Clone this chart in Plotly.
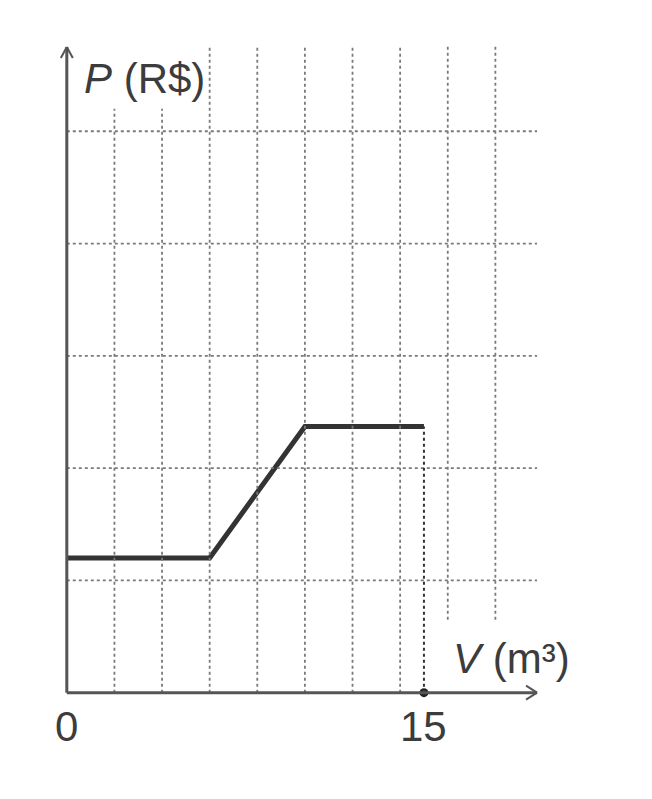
import plotly.graph_objects as go

# Price P (R$) as a function of volume V (m3).
volumes = [0, 6, 10, 15]
prices = [1.2, 1.2, 2.37, 2.37]
tick_values = [0, 15]
tick_labels = ["0", "15"]

# Grid of the drawing (in data units).
grid_x = [2, 4, 6, 8, 10, 12, 14, 16, 18]
grid_y = [1, 2, 3, 4, 5]
x_end = 19.75
y_end = 5.75

ink = "#333333"
grid_color = "#7a7a7a"
font = "Liberation Sans, Arial, sans-serif"

fig = go.Figure()

shapes = []
for gx in grid_x:
    top = 5.2 if gx < 6 else 5.77
    bottom = 0.65 if gx > 15 else 0
    shapes.append(dict(type="line", xref="x", yref="y", x0=gx, x1=gx,
                       y0=bottom, y1=top,
                       line=dict(color=grid_color, width=1.8, dash="dot")))
for gy in grid_y:
    shapes.append(dict(type="line", xref="x", yref="y", x0=0, x1=x_end,
                       y0=gy, y1=gy,
                       line=dict(color=grid_color, width=1.8, dash="dot")))

# Drop line from the end of the plateau to the V axis.
shapes.append(dict(type="line", xref="x", yref="y",
                   x0=volumes[-1], x1=volumes[-1], y0=0, y1=prices[-1],
                   line=dict(color="#333333", width=2, dash="dot")))

# Axes with arrowheads.
axis_line = dict(color="#555555", width=3)
shapes.append(dict(type="line", xref="x", yref="y", x0=0, x1=x_end,
                   y0=0, y1=0, line=axis_line))
shapes.append(dict(type="line", xref="x", yref="y", x0=0, x1=0,
                   y0=0, y1=y_end, line=axis_line))
for s in (1, -1):
    shapes.append(dict(type="line", xref="x", yref="y",
                       xsizemode="pixel", ysizemode="pixel",
                       xanchor=x_end, yanchor=0,
                       x0=-11, x1=0, y0=7 * s, y1=0,
                       line=dict(color="#555555", width=2)))
    shapes.append(dict(type="line", xref="x", yref="y",
                       xsizemode="pixel", ysizemode="pixel",
                       xanchor=0, yanchor=y_end,
                       x0=6 * s, x1=0, y0=-11, y1=0,
                       line=dict(color="#555555", width=2)))

fig.add_trace(go.Scatter(x=volumes, y=prices, mode="lines",
                         line=dict(color=ink, width=5),
                         hoverinfo="skip", showlegend=False))
fig.add_trace(go.Scatter(x=[volumes[-1]], y=[0], mode="markers",
                         marker=dict(color="#222222", size=9),
                         cliponaxis=False,
                         hoverinfo="skip", showlegend=False))

annotations = [
    dict(x=0.62, y=5.47, text="<i>P</i> (R$)", xanchor="left"),
    dict(x=16.15, y=0.3, text="<i>V</i> (m³)", xanchor="left"),
]
for tv, tl in zip(tick_values, tick_labels):
    annotations.append(dict(x=tv, y=-0.3, text=tl, xanchor="center"))
for a in annotations:
    a.update(xref="x", yref="y", showarrow=False, yanchor="middle",
             font=dict(family=font, size=42, color="#3c3c3c"))

fig.update_layout(
    width=652, height=799,
    margin=dict(l=35, r=117, t=11, b=47),
    paper_bgcolor="white", plot_bgcolor="white",
    xaxis=dict(range=[-1, 20], visible=False, fixedrange=True),
    yaxis=dict(range=[-0.6, 6], visible=False, fixedrange=True),
    shapes=shapes,
    annotations=annotations,
)

fig.write_html("out.html")
